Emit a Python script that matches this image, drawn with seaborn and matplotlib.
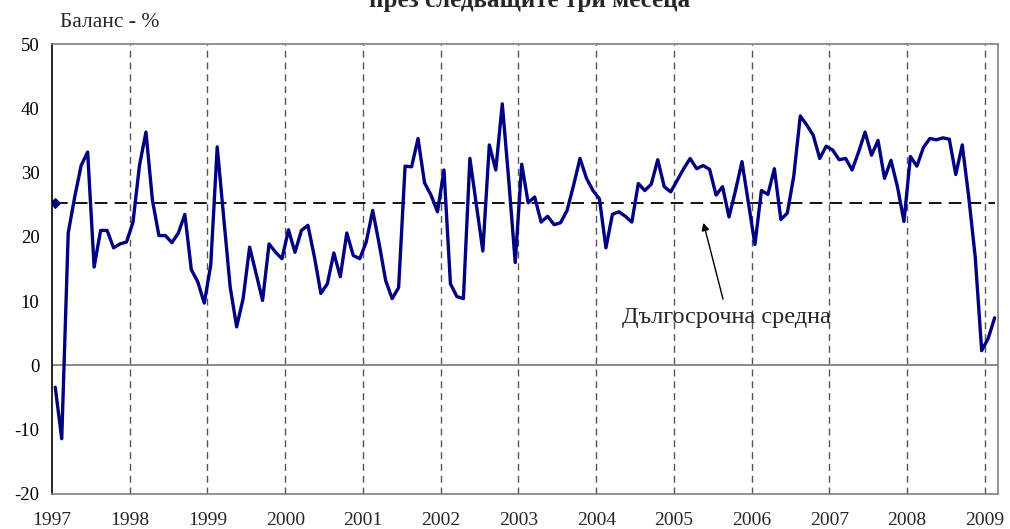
import numpy as np
import pandas as pd
import seaborn as sns
import matplotlib
matplotlib.use("Agg")
import matplotlib.pyplot as plt

# monthly balance, Jan 1997 - Feb 2009
balans = [
    -3.4, -11.4, 20.6, 26.2, 31.1, 33.2, 15.3, 21.0, 21.0, 18.3, 18.9, 19.2,   # 1997
    22.3, 31.1, 36.3, 25.7, 20.2, 20.2, 19.1, 20.6, 23.5, 14.9, 13.0, 9.7,     # 1998
    15.6, 34.0, 23.0, 12.2, 6.0, 10.4, 18.4, 14.3, 10.1, 18.9, 17.6, 16.6,     # 1999
    21.1, 17.6, 21.0, 21.8, 16.9, 11.2, 12.7, 17.5, 13.8, 20.6, 17.1, 16.6,    # 2000
    19.2, 24.1, 18.9, 13.2, 10.4, 12.1, 31.0, 30.9, 35.3, 28.4, 26.5, 23.9,    # 2001
    30.4, 12.7, 10.7, 10.4, 32.2, 25.0, 17.8, 34.3, 30.4, 40.7, 28.8, 16.0,    # 2002
    31.3, 25.3, 26.2, 22.3, 23.2, 21.9, 22.2, 24.1, 28.0, 32.2, 29.1, 27.2,    # 2003
    25.9, 18.3, 23.5, 23.9, 23.2, 22.3, 28.3, 27.2, 28.2, 32.0, 27.8, 27.0,    # 2004
    28.8, 30.6, 32.2, 30.6, 31.1, 30.5, 26.5, 27.8, 23.1, 27.2, 31.7, 25.2,    # 2005
    18.8, 27.2, 26.6, 30.6, 22.7, 23.7, 29.5, 38.8, 37.4, 35.8, 32.2, 34.1,    # 2006
    33.5, 32.0, 32.2, 30.4, 33.2, 36.3, 32.7, 35.0, 29.1, 31.9, 27.8, 22.4,    # 2007
    32.5, 31.0, 33.9, 35.3, 35.1, 35.4, 35.2, 29.7, 34.3, 26.2, 16.9, 2.3,     # 2008
    4.2, 7.4,                                                                  # 2009
]
sredna = 25.2
godini = list(range(1997, 2010))
y_ticks = [50, 40, 30, 20, 10, 0, -10, -20]

n = len(balans)
df = pd.DataFrame({"x": 1997 + (np.arange(n) + 0.5) / 12, "balans": balans})
df["sredna"] = sredna

sns.set_style("white")
plt.rcParams["font.family"] = ["Liberation Serif", "DejaVu Serif"]
plt.rcParams["axes.unicode_minus"] = False

fig = plt.figure(figsize=(10.1, 5.29), dpi=100)
ax = fig.add_axes([0.0515, 0.0662, 0.9365, 0.8506])

# vertical year separators
for g in godini[1:]:
    ax.axvline(g, color="#555555", lw=1.0, ls=(0, (5, 3.5)), zorder=1)
ax.axhline(0, color="#808080", lw=1.3, zorder=1)

# long-term average
sns.lineplot(data=df, x="x", y="sredna", ax=ax, color="black", lw=1.3,
             linestyle=(0, (7, 4)), marker="D", markersize=5,
             markevery=[0], markerfacecolor="#000080",
             markeredgecolor="#000080", zorder=2)
sns.lineplot(data=df, x="x", y="balans", ax=ax, color="#000080", lw=2.4,
             zorder=3)

ax.set_xlim(1997, 1997 + n / 12)
ax.set_ylim(-20, 50)
ax.set_yticks(y_ticks)
ax.set_xticks(godini)
ax.set_xticklabels([str(g) for g in godini])
ax.tick_params(axis="y", direction="out", length=5, width=1, colors="black",
               labelsize=13.5, pad=4)
ax.tick_params(axis="x", length=0, labelsize=14, pad=13)
ax.set_xlabel("")
ax.set_ylabel("")

for s in ["top", "right", "bottom"]:
    ax.spines[s].set_color("#808080")
    ax.spines[s].set_linewidth(1.2)
ax.spines["left"].set_color("black")
ax.spines["left"].set_linewidth(1.2)

ax.annotate("", xy=(2005.37, 22.6), xytext=(2005.64, 9.9),
            arrowprops=dict(arrowstyle="-|>", color="black", lw=1.0,
                            mutation_scale=11))
ax.text(2004.33, 7.4, "Дългосрочна средна", fontsize=17.5, va="center",
        ha="left")

fig.text(0.059, 0.949, "Баланс - %", fontsize=15.5, ha="left", va="baseline")
fig.text(0.524, 0.987, "през следващите три месеца", fontsize=18,
         fontweight="bold", ha="center", va="baseline")

fig.savefig("out.png", dpi=100)
